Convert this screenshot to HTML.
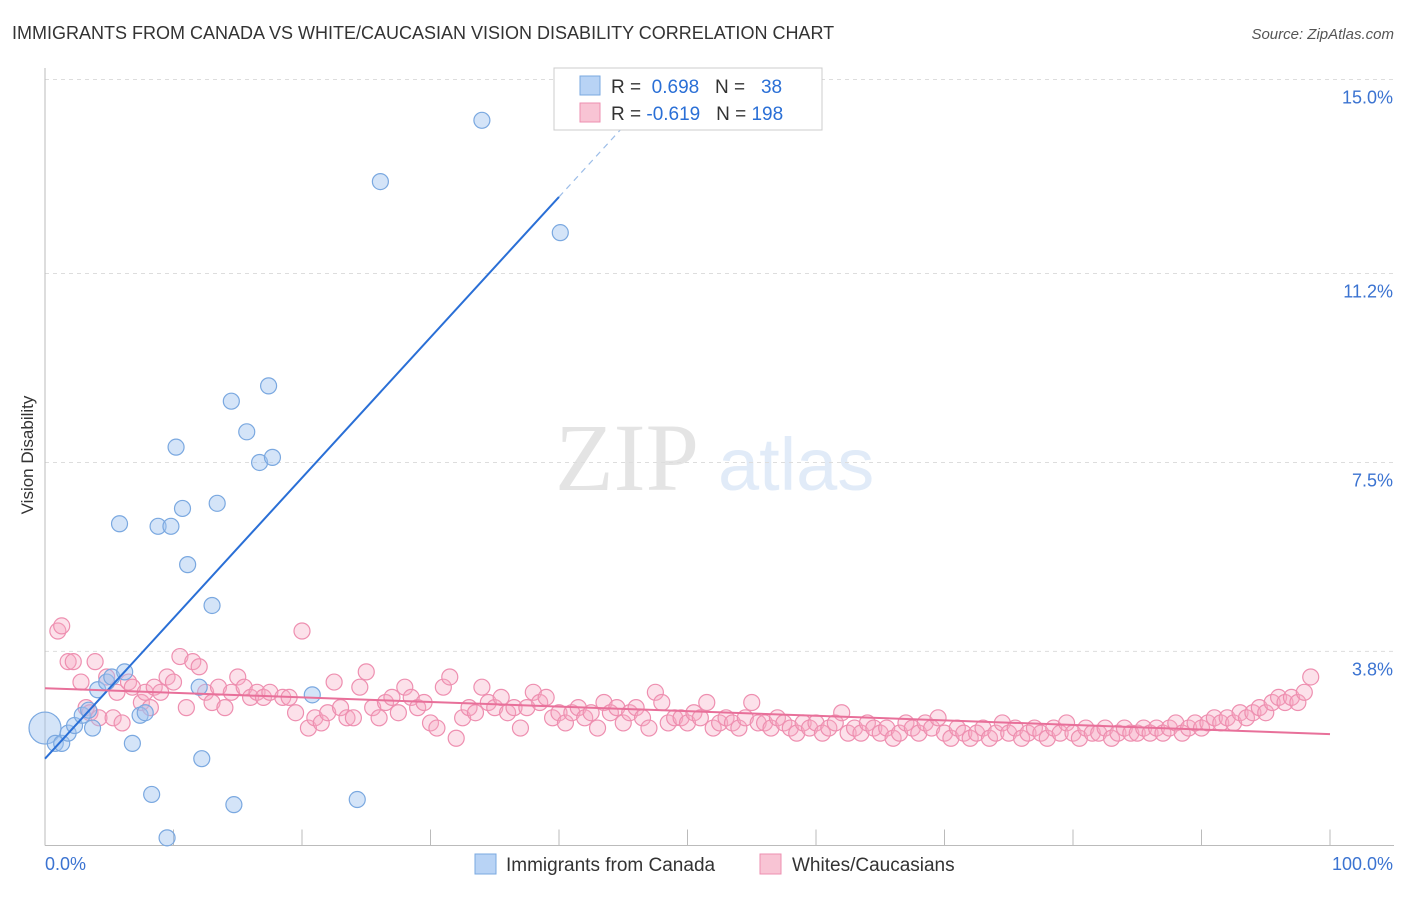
<!DOCTYPE html>
<html><head><meta charset="utf-8"><style>
body{margin:0;background:#fff;font-family:"Liberation Sans",sans-serif;}
</style></head><body>
<svg id="chart" width="1406" height="892" xmlns="http://www.w3.org/2000/svg" font-family="Liberation Sans, sans-serif">
<text x="12" y="39" font-size="18" fill="#333">IMMIGRANTS FROM CANADA VS WHITE/CAUCASIAN VISION DISABILITY CORRELATION CHART</text>
<text x="1394" y="39" font-size="15" fill="#555" font-style="italic" text-anchor="end">Source: ZipAtlas.com</text>
<text transform="translate(33,455) rotate(-90)" font-size="17" fill="#333" text-anchor="middle">Vision Disability</text>
<g opacity="0.22"><text x="555" y="490" font-size="96" font-family="Liberation Serif, serif" fill="#888">ZIP</text><text x="718" y="490" font-size="74" fill="#7aa8e0">atlas</text></g>
<g id="grid"></g><g id="axes"></g><g id="pts"></g><g id="lines"></g>
<g>
<rect x="554" y="68" width="268" height="62" fill="#fff" stroke="#ccc"/>
<rect x="580" y="76" width="20" height="19" fill="#b8d3f5" stroke="#7aa8e0"/>
<rect x="580" y="103" width="20" height="19" fill="#f8c4d4" stroke="#ee8fb0"/>
<text x="611" y="93" font-size="19" fill="#333">R = <tspan fill="#2a6fd6">&#160;0.698</tspan>&#160;&#160;&#160;N = <tspan fill="#2a6fd6">&#160;&#160;38</tspan></text>
<text x="611" y="120" font-size="19" fill="#333">R = <tspan fill="#2a6fd6">-0.619</tspan>&#160;&#160;&#160;N = <tspan fill="#2a6fd6">198</tspan></text>
</g>
<g>
<rect x="475" y="854" width="21" height="20" fill="#b8d3f5" stroke="#7aa8e0"/>
<text x="506" y="871" font-size="19" fill="#333">Immigrants from Canada</text>
<rect x="760" y="854" width="21" height="20" fill="#f8c4d4" stroke="#ee8fb0"/>
<text x="792" y="871" font-size="19" fill="#333">Whites/Caucasians</text>
</g>
</svg>
<script>
const yTicks=[3.8,7.5,11.2,15.0];
const yTickLabels=["3.8%","7.5%","11.2%","15.0%"];
const xTickCount=10;
const blueX=[0,0.8,1.3,1.8,2.3,2.9,3.4,3.7,4.1,4.8,5.2,5.8,6.2,6.8,7.4,7.8,8.3,8.8,9.5,9.8,10.2,10.7,11.1,12,12.2,13,13.4,14.5,14.7,15.7,16.7,17.4,17.7,20.8,24.3,26.1,34,40.1];
const blueY=[2.3,2,2,2.2,2.35,2.55,2.65,2.3,3.05,3.2,3.3,6.3,3.4,2,2.55,2.6,1,6.25,0.15,6.25,7.8,6.6,5.5,3.1,1.7,4.7,6.7,8.7,0.8,8.1,7.5,9,7.6,2.95,0.9,13,14.2,12];
const pinkX=[1,1.3,1.8,2.2,2.8,3.2,3.5,3.9,4.2,4.8,5.3,5.6,6,6.5,6.8,7.5,7.8,8.2,8.5,9,9.5,10,10.5,11,11.5,12,12.5,13,13.5,14,14.5,15,15.5,16,16.5,17,17.5,18.5,19,19.5,20,20.5,21,21.5,22,22.5,23,23.5,24,24.5,25,25.5,26,26.5,27,27.5,28,28.5,29,29.5,30,30.5,31,31.5,32,32.5,33,33.5,34,34.5,35,35.5,36,36.5,37,37.5,38,38.5,39,39.5,40,40.5,41,41.5,42,42.5,43,43.5,44,44.5,45,45.5,46,46.5,47,47.5,48,48.5,49,49.5,50,50.5,51,51.5,52,52.5,53,53.5,54,54.5,55,55.5,56,56.5,57,57.5,58,58.5,59,59.5,60,60.5,61,61.5,62,62.5,63,63.5,64,64.5,65,65.5,66,66.5,67,67.5,68,68.5,69,69.5,70,70.5,71,71.5,72,72.5,73,73.5,74,74.5,75,75.5,76,76.5,77,77.5,78,78.5,79,79.5,80,80.5,81,81.5,82,82.5,83,83.5,84,84.5,85,85.5,86,86.5,87,87.5,88,88.5,89,89.5,90,90.5,91,91.5,92,92.5,93,93.5,94,94.5,95,95.5,96,96.5,97,97.5,98,98.5];
const pinkY=[4.2,4.3,3.6,3.6,3.2,2.7,2.6,3.6,2.5,3.3,2.5,3,2.4,3.2,3.1,2.8,3,2.7,3.1,3,3.3,3.2,3.7,2.7,3.6,3.5,3,2.8,3.1,2.7,3,3.3,3.1,2.9,3,2.9,3,2.9,2.9,2.6,4.2,2.3,2.5,2.4,2.6,3.2,2.7,2.5,2.5,3.1,3.4,2.7,2.5,2.8,2.9,2.6,3.1,2.9,2.7,2.8,2.4,2.3,3.1,3.3,2.1,2.5,2.7,2.6,3.1,2.8,2.7,2.9,2.6,2.7,2.3,2.7,3,2.8,2.9,2.5,2.6,2.4,2.6,2.7,2.5,2.6,2.3,2.8,2.6,2.7,2.4,2.6,2.7,2.5,2.3,3,2.8,2.4,2.5,2.5,2.4,2.6,2.5,2.8,2.3,2.4,2.5,2.4,2.3,2.5,2.8,2.4,2.4,2.3,2.5,2.4,2.3,2.2,2.4,2.3,2.4,2.2,2.3,2.4,2.6,2.2,2.3,2.2,2.4,2.3,2.2,2.3,2.1,2.2,2.4,2.3,2.2,2.4,2.3,2.5,2.2,2.1,2.3,2.2,2.1,2.2,2.3,2.1,2.2,2.4,2.2,2.3,2.1,2.2,2.3,2.2,2.1,2.3,2.2,2.4,2.2,2.1,2.3,2.2,2.2,2.3,2.1,2.2,2.3,2.2,2.2,2.3,2.2,2.3,2.2,2.3,2.4,2.2,2.3,2.4,2.3,2.4,2.5,2.4,2.5,2.4,2.6,2.5,2.6,2.7,2.6,2.8,2.9,2.8,2.9,2.8,3,3.3];
const blueFit=[1.7,12.7];const blueFitRange=[0,40];const blueDashEnd=45;
const pinkFit=[3.08,2.18];
const NS='http://www.w3.org/2000/svg';
const X0=45,X1=1330,YB=845.5,PY=51.07;
const sx=v=>X0+(X1-X0)*v/100, sy=v=>YB-v*PY;
function mk(tag,attrs,parent){const e=document.createElementNS(NS,tag);for(const k in attrs)e.setAttribute(k,attrs[k]);parent.appendChild(e);return e;}
const grid=document.getElementById('grid'),axes=document.getElementById('axes'),pts=document.getElementById('pts'),lines=document.getElementById('lines');
yTicks.forEach((t,i)=>{const y=sy(t);
const g=mk('line',{x1:45,x2:1394,y1:y,y2:y,stroke:'#ddd','stroke-dasharray':'4,4'},grid);


const tx=mk('text',{x:1393,y:y+24,'font-size':18,fill:'#3b73d1','text-anchor':'end'},axes);tx.textContent=yTickLabels[i];

});
const ax=mk('line',{x1:45,x2:1394,y1:YB,y2:YB,stroke:'#bbb'},axes);


const ay=mk('line',{x1:45,x2:45,y1:68,y2:YB,stroke:'#bbb'},axes);


for(let i=0;i<=xTickCount;i++){const x=sx(i*100/xTickCount);const t=mk('line',{x1:x,x2:x,y1:YB,y2:YB-16,stroke:'#bbb'},axes);

}
const l0=mk('text',{x:45,y:870,'font-size':18,fill:'#3b73d1'},axes);l0.textContent='0.0%';


const l1=mk('text',{x:1393,y:870,'font-size':18,fill:'#3b73d1','text-anchor':'end'},axes);l1.textContent='100.0%';


pinkX.forEach((v,i)=>{const c=mk('circle',{cx:sx(v),cy:sy(pinkY[i]),r:8,fill:'rgba(245,170,195,0.35)',stroke:'#ee8fb0','stroke-width':1.2},pts);

});
blueX.forEach((v,i)=>{const c=mk('circle',{cx:sx(v),cy:sy(blueY[i]),r:i===0?16:8,fill:'rgba(160,195,240,0.45)',stroke:'#7aa8e0','stroke-width':1.2},pts);

});
const slope=(blueFit[1]-blueFit[0])/(blueFitRange[1]-blueFitRange[0]);
const bl=mk('line',{x1:sx(blueFitRange[0]),y1:sy(blueFit[0]),x2:sx(blueFitRange[1]),y2:sy(blueFit[1]),stroke:'#2a6fd6','stroke-width':2},lines);


const bd=mk('line',{x1:sx(blueFitRange[1]),y1:sy(blueFit[1]),x2:sx(blueDashEnd),y2:sy(blueFit[0]+slope*blueDashEnd),stroke:'#9cbde8','stroke-width':1.2,'stroke-dasharray':'6,5'},lines);


const pl=mk('line',{x1:sx(0),y1:sy(pinkFit[0]),x2:sx(100),y2:sy(pinkFit[1]),stroke:'#e8709a','stroke-width':2},lines);


</script>
</body></html>
